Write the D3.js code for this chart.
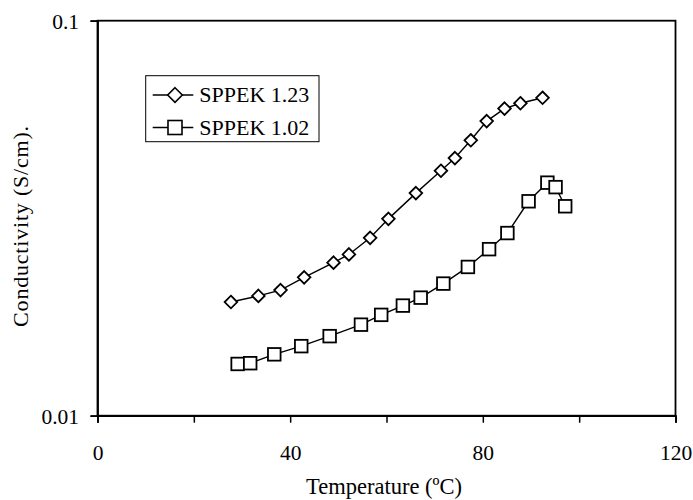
<!DOCTYPE html>
<html>
<head>
<meta charset="utf-8">
<script src="https://cdn.jsdelivr.net/npm/d3@7"></script>
<style>
  body { margin: 0; background: #fff; }
  svg text { font-family: "Liberation Serif", "Times New Roman", serif; fill: #000; }
</style>
</head>
<body>
<div id="chart"></div>
<script>
// series
var seriesNames = ["SPPEK 1.23", "SPPEK 1.02"]

var tempA = [27.7, 33.4, 38.0, 42.9, 49.0, 52.2, 56.6, 60.4, 66.1, 71.3, 74.2, 77.5, 80.8, 84.5, 87.8, 92.4]
var condA = [0.0194, 0.0201, 0.0208, 0.0224, 0.0244, 0.0256, 0.0282, 0.0315, 0.0366, 0.0417, 0.0449, 0.0498, 0.0557, 0.0599, 0.0618, 0.0638]

var tempB = [29.1, 31.7, 36.7, 42.3, 48.2, 54.7, 58.9, 63.4, 67.1, 71.8, 76.9, 81.3, 85.1, 89.5, 93.4, 95.1, 97.1]
var condB = [0.01352, 0.01358, 0.0143, 0.0150, 0.0159, 0.0170, 0.0180, 0.0190, 0.0199, 0.0216, 0.0238, 0.0264, 0.0290, 0.0349, 0.0389, 0.0379, 0.0339]

var xTicks = [0, 20, 40, 60, 80, 100, 120]
var xLabels = [0, 40, 80, 120]
var yTicks = [0.01, 0.1]

var margin = {top: 20.7, right: 17.5, bottom: 84.3, left: 97.5},
    width  = 693 - margin.left - margin.right,
    height = 500 - margin.top - margin.bottom

var svg = d3.select("#chart").append("svg")
  .attr("width", 693)
  .attr("height", 500)

var g = svg.append("g")
  .attr("transform", "translate(" + margin.left + "," + margin.top + ")")

var x = d3.scaleLinear().domain([0, 120]).range([0, width])
var y = d3.scaleLog().domain([0.01, 0.1]).range([height, 0])

// frame
g.append("rect")
  .attr("width", width)
  .attr("height", height)
  .attr("fill", "none")
  .attr("stroke", "#000")
  .attr("stroke-width", 1.8)

var xAxis = g.append("g")
  .attr("transform", "translate(0," + height + ")")
  .call(d3.axisBottom(x)
    .tickValues(xTicks)
    .tickSize(7)
    .tickPadding(22)
    .tickFormat(d => xLabels.indexOf(d) >= 0 ? d : ""))
xAxis.select(".domain").attr("stroke-width", 1.8)
xAxis.selectAll(".tick line").attr("stroke-width", 1.5)
xAxis.selectAll("text").attr("font-size", 21.5).attr("font-family", null)

var yAxis = g.append("g")
  .call(d3.axisLeft(y)
    .tickValues(yTicks)
    .tickSize(7)
    .tickPadding(11.5)
    .tickFormat(d => d))
yAxis.select(".domain").attr("stroke-width", 1.8)
yAxis.selectAll(".tick line").attr("stroke-width", 1.5)
yAxis.selectAll("text").attr("font-size", 21.5).attr("font-family", null).attr("dy", "0.38em")

// axis titles
svg.append("text")
  .attr("x", 384)
  .attr("y", 494)
  .attr("text-anchor", "middle")
  .attr("font-size", 22.5)
  .text("Temperature (ºC)")

svg.append("text")
  .attr("transform", "translate(28,226) rotate(-90)")
  .attr("text-anchor", "middle")
  .attr("font-size", 22)
  .attr("letter-spacing", 0.8)
  .text("Conductivity (S/cm).")

var line = d3.line()
  .x(d => x(d[0]))
  .y(d => y(d[1]))

var dataA = tempA.map((t, i) => [t, condA[i]])
var dataB = tempB.map((t, i) => [t, condB[i]])

function diamond(sel, r) {
  sel.attr("d", "M0," + (-r) + "L" + r + ",0L0," + r + "L" + (-r) + ",0Z")
}

g.append("path").datum(dataA)
  .attr("fill", "none").attr("stroke", "#000").attr("stroke-width", 1.4)
  .attr("d", line)
g.append("path").datum(dataB)
  .attr("fill", "none").attr("stroke", "#000").attr("stroke-width", 1.4)
  .attr("d", line)

g.selectAll(".ptA").data(dataA)
  .enter().append("path")
    .attr("class", "ptA")
    .attr("transform", d => "translate(" + x(d[0]) + "," + y(d[1]) + ")")
    .attr("fill", "#fff").attr("stroke", "#000").attr("stroke-width", 1.8)
    .call(diamond, 6.3)

g.selectAll(".ptB").data(dataB)
  .enter().append("rect")
    .attr("class", "ptB")
    .attr("x", d => x(d[0]) - 6.3)
    .attr("y", d => y(d[1]) - 6.3)
    .attr("width", 12.6).attr("height", 12.6)
    .attr("fill", "#fff").attr("stroke", "#000").attr("stroke-width", 1.8)

// legend
var leg = svg.append("g")
leg.append("rect")
  .attr("x", 145.7).attr("y", 75.7)
  .attr("width", 173.3).attr("height", 66)
  .attr("fill", "#fff").attr("stroke", "#000").attr("stroke-width", 1)

seriesNames.forEach((name, i) => {
  var cy = 95 + i * 32.5
  leg.append("line")
    .attr("x1", 152.7).attr("x2", 193.3)
    .attr("y1", cy).attr("y2", cy)
    .attr("stroke", "#000").attr("stroke-width", 1.4)
  if (i == 0) {
    leg.append("path")
      .attr("transform", "translate(175," + cy + ")")
      .attr("fill", "#fff").attr("stroke", "#000").attr("stroke-width", 1.6)
      .call(diamond, 7.3)
  } else {
    leg.append("rect")
      .attr("x", 175 - 7).attr("y", cy - 7)
      .attr("width", 14).attr("height", 14)
      .attr("fill", "#fff").attr("stroke", "#000").attr("stroke-width", 1.6)
  }
  leg.append("text")
    .attr("x", 199.3).attr("y", cy + 7)
    .attr("font-size", 22)
    .text(name)
})
</script>
</body>
</html>
